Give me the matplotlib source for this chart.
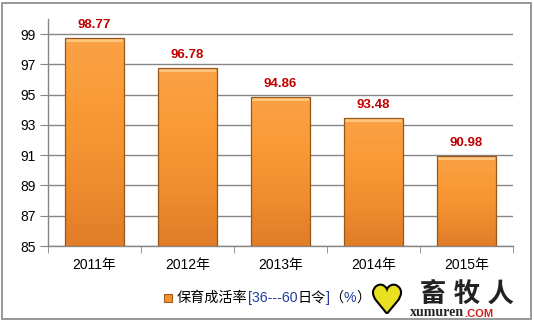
import numpy as np
import matplotlib.pyplot as plt
from matplotlib.patches import Rectangle
from matplotlib import patheffects as pe
from matplotlib.colors import LinearSegmentedColormap

plt.rcParams['font.family'] = ['Liberation Sans', 'Noto Sans CJK SC', 'DejaVu Sans']

# ---- data ----
years = ['2011年', '2012年', '2013年', '2014年', '2015年']
rates = [98.77, 96.78, 94.86, 93.48, 90.98]
yticks = [85, 87, 89, 91, 93, 95, 97, 99]
legend_parts = [('保育成活率', 'black'), ('[36---60', '#1f3c9a'), ('日令', 'black'),
                (']', '#1f3c9a'), ('（', 'black'), ('%', '#1f3c9a'), ('）', 'black')]

fig = plt.figure(figsize=(5.34, 3.26), dpi=100)
W, H = 534, 326

# chart frame
fig.patches.append(Rectangle((2 / W, 1 - 319 / H), 529 / W, 316 / H, transform=fig.transFigure,
                             facecolor='white', edgecolor='#868686', linewidth=1.2, zorder=-5))

ax = fig.add_axes([48 / W, 1 - 246 / H, (513 - 48) / W, (246 - 19) / H])
ax.set_facecolor('none')

x = np.arange(len(years))
bars = ax.bar(x, rates, width=0.645, color='#f39232', edgecolor='none', zorder=3)

# vertical gradient inside each bar
cmap = LinearSegmentedColormap.from_list('org', ['#fba247', '#f99a36', '#f08e2f', '#e17c28'])
grad = np.linspace(0, 1, 256).reshape(-1, 1)
for b in bars:
    x0, w, top = b.get_x(), b.get_width(), b.get_height()
    im = ax.imshow(grad, extent=(x0, x0 + w, 85, top), origin='upper', aspect='auto',
                   cmap=cmap, zorder=3.5)
    im.set_clip_path(b)
    # light bevel at the top
    ax.add_patch(Rectangle((x0 + w * 0.03, top - 0.3), w * 0.94, 0.25, facecolor='#ffd08a',
                           edgecolor='none', alpha=0.8, zorder=3.6))
    ax.add_patch(Rectangle((x0, 85), w, top - 85, facecolor='none', edgecolor='#9a5518',
                           linewidth=0.9, zorder=3.7))

for xi, v in zip(x, rates):
    ax.text(xi, v + 0.45, f'{v:.2f}', ha='center', va='bottom', color='#c00000',
            fontsize=9.5, fontweight='bold', zorder=5)

ax.set_ylim(85, 100)
ax.set_xlim(-0.5, len(years) - 0.5)
ax.set_yticks(yticks)
ax.set_yticklabels([str(t) for t in yticks], fontsize=10)
ax.set_xticks(x)
ax.set_xticklabels(years, fontsize=10)
ax.set_xticks(np.arange(len(years) + 1) - 0.5, minor=True)
ax.tick_params(axis='x', which='major', length=0, pad=9)
ax.tick_params(axis='x', which='minor', length=5, color='#868686', direction='out')
ax.tick_params(axis='y', length=6, color='#868686', pad=3)
ax.grid(axis='y', color='#868686', linewidth=1.0, zorder=1)
for s in ['top', 'right']:
    ax.spines[s].set_visible(False)
for s in ['left', 'bottom']:
    ax.spines[s].set_color('#868686')
    ax.spines[s].set_linewidth(1.0)

# legend made of pieces with different colours
fig.patches.append(Rectangle((164 / W, 1 - 302 / H), 8 / W, 8 / H, transform=fig.transFigure,
                             facecolor='#f39232', edgecolor='#a05a1c', linewidth=0.8))
anchor = fig.text(177 / W, 1 - 298 / H, legend_parts[0][0], color=legend_parts[0][1],
                  fontsize=10.2, va='center')
for txt, col in legend_parts[1:]:
    anchor = fig.add_artist(plt.Annotation(txt, xy=(1, 0), xycoords=anchor, xytext=(0, 0),
                                           textcoords='offset points', va='bottom', ha='left',
                                           color=col, fontsize=10.2))

# watermark
fig.text(387 / W, 1 - 302 / H, '♥', fontsize=26, color='#e8e020', ha='center', va='center',
         family=['DejaVu Sans'], zorder=6,
         path_effects=[pe.withStroke(linewidth=3, foreground='black')])
fig.text(467 / W, 1 - 294 / H, '畜 牧 人', fontsize=19, color='#222222', ha='center',
         va='center', fontweight='bold')
wm = fig.text(410 / W, 1 - 316 / H, 'xumuren', fontsize=10, color='#222222', ha='left',
              va='baseline', family=['Liberation Serif'], fontweight='bold')
fig.add_artist(plt.Annotation('.COM', xy=(1, 0), xycoords=wm, xytext=(0, 0),
                              textcoords='offset points', va='bottom', ha='left',
                              color='#d02020', fontsize=8, fontweight='bold'))

fig.savefig('out.png', dpi=100)
